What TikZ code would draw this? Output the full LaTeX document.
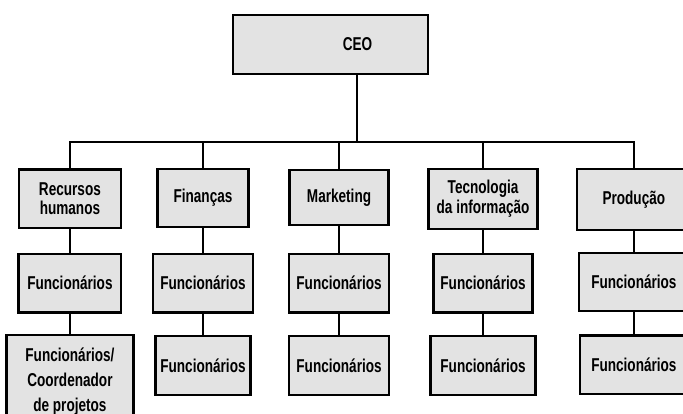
\documentclass[tikz,border=0pt]{standalone}
\usepackage{fontspec}
\setmainfont{Liberation Sans}[FakeStretch=0.73]
\usetikzlibrary{calc}

\begin{document}
\begin{tikzpicture}[
  orgbox/.style={draw=black, line width=1.7pt, fill=black!11, rectangle,
    minimum width=2.65cm, minimum height=1.55cm, align=center,
    font=\fontsize{14}{14.5}\selectfont\bfseries},
  link/.style={draw=black, line width=1.5pt}
]
\useasboundingbox (0,0) rectangle (18.07,-10.95);

\node[orgbox, minimum width=5.16cm, minimum height=1.56cm] (ceo) at (8.74,-1.18) {\hspace*{1.44cm}CEO};
\coordinate (bus) at (9.44,-3.76);

\node[orgbox, minimum width=2.70cm] (rh)   at ( 1.85,-5.26) {Recursos\\humanos};
\node[orgbox, minimum width=2.41cm] (fin)  at ( 5.37,-5.24) {Finanças};
\node[orgbox, minimum width=2.62cm, minimum height=1.46cm] (mkt) at ( 8.97,-5.22) {Marketing};
\node[orgbox, minimum width=2.88cm, minimum height=1.59cm] (ti) at (12.78,-5.26) {Tecnologia\\da informação};
\node[orgbox, minimum width=2.99cm, minimum height=1.61cm] (prod) at (16.77,-5.28) {Produção};

\node[orgbox, minimum width=2.72cm] (rhf)   at ( 1.85,-7.49) {Funcionários};
\node[orgbox, minimum width=2.65cm] (finf)  at ( 5.37,-7.49) {Funcionários};
\node[orgbox, minimum width=2.65cm] (mktf)  at ( 8.97,-7.49) {Funcionários};
\node[orgbox, minimum width=2.62cm] (tif)   at (12.78,-7.49) {Funcionários};
\node[orgbox, minimum width=2.91cm] (prodf) at (16.77,-7.46) {Funcionários};

\node[orgbox, minimum width=3.36cm, minimum height=2.46cm,
  font=\fontsize{14}{19}\selectfont\bfseries] (rhc) at (1.85,-10.09)
  {Funcionários/\\Coordenador\\de projetos};
\node[orgbox, minimum width=2.51cm] (finc)  at ( 5.37,-9.67) {Funcionários};
\node[orgbox, minimum width=2.65cm] (mktc)  at ( 8.97,-9.67) {Funcionários};
\node[orgbox, minimum width=2.78cm] (tic)   at (12.78,-9.67) {Funcionários};
\node[orgbox, minimum width=2.86cm] (prodc) at (16.77,-9.65) {Funcionários};

\draw[link] (ceo.south -| bus) -- (bus);
\draw[link] (rh.north) |- (bus) -| (prod.north);
\draw[link] (fin.north) -- (fin.north |- bus);
\draw[link] (mkt.north) -- (mkt.north |- bus);
\draw[link] (ti.north) -- (ti.north |- bus);

\draw[link] (rh) -- (rhf) -- (rhc);
\draw[link] (fin) -- (finf) -- (finc);
\draw[link] (mkt) -- (mktf) -- (mktc);
\draw[link] (ti) -- (tif) -- (tic);
\draw[link] (prod) -- (prodf) -- (prodc);
\end{tikzpicture}
\end{document}
